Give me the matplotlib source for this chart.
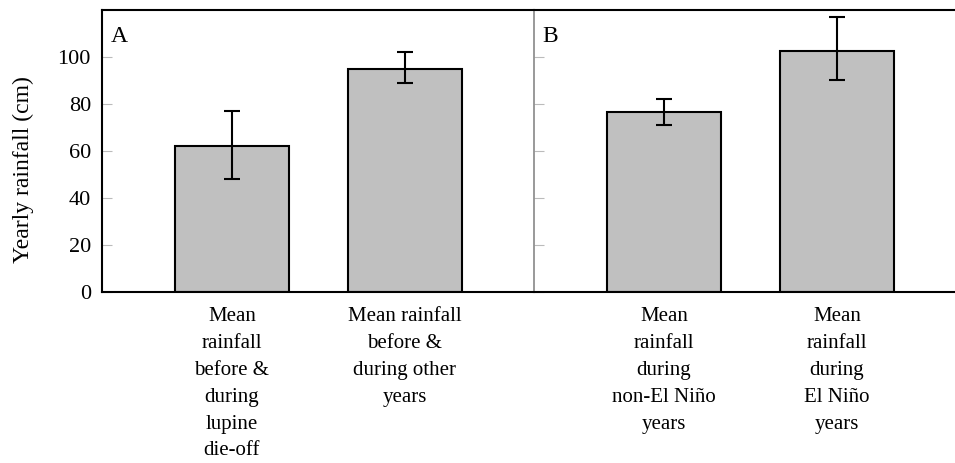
import numpy as np
import matplotlib
matplotlib.use("Agg")
import matplotlib.pyplot as plt

# data
labels_a = ["Mean\nrainfall\nbefore &\nduring\nlupine\ndie-off",
            "Mean rainfall\nbefore &\nduring other\nyears"]
means_a = [62, 95]
err_lo_a = [14, 6]
err_hi_a = [15, 7]

labels_b = ["Mean\nrainfall\nduring\nnon-El Niño\nyears",
            "Mean\nrainfall\nduring\nEl Niño\nyears"]
means_b = [76.5, 102.5]
err_lo_b = [5.5, 12.5]
err_hi_b = [5.5, 14.5]

yticks = [0, 20, 40, 60, 80, 100]

plt.rcParams['font.family'] = ['Liberation Serif', 'DejaVu Serif']

fig = plt.figure(figsize=(9.55, 4.63), dpi=100)
bot = 1 - 292/463
hgt = (292 - 9.5)/463
axA = fig.add_axes([102/955, bot, 432/955, hgt])
axB = fig.add_axes([534/955, bot, 432/955, hgt])

def panel(ax, labels, means, lo, hi, letter):
    x = np.arange(len(means))
    ax.bar(x, means, width=0.66, color='#c0c0c0', edgecolor='black', linewidth=1.5, zorder=2)
    ax.errorbar(x, means, yerr=[lo, hi], fmt='none', ecolor='black',
                elinewidth=1.5, capsize=6, capthick=1.5, zorder=3)
    ax.set_xlim(-0.751, 1.746)
    ax.set_ylim(0, 120.2)
    ax.set_yticks(yticks)
    ax.set_xticks(x)
    ax.set_xticklabels(labels, fontsize=15, linespacing=1.56, va='top')
    ax.tick_params(axis='x', length=0, pad=11)
    ax.tick_params(axis='y', direction='in', length=7, color='#bbbbbb', width=0.8)
    for s in ['top', 'bottom']:
        ax.spines[s].set_linewidth(1.5)
    ax.spines['right'].set_visible(False)
    ax.text(0.02, 0.94, letter, transform=ax.transAxes, fontsize=17, va='top', ha='left')

panel(axA, labels_a, means_a, err_lo_a, err_hi_a, 'A')
panel(axB, labels_b, means_b, err_lo_b, err_hi_b, 'B')

axA.spines['left'].set_linewidth(1.5)
axA.set_yticklabels([str(t) for t in yticks], fontsize=16)
axA.tick_params(axis='y', pad=8)
axA.set_ylabel("Yearly rainfall (cm)", fontsize=17)
axA.yaxis.set_label_coords(-0.157, 0.435)

axB.spines['left'].set_color('#888888')
axB.spines['left'].set_linewidth(1.2)
axB.set_yticklabels([])

fig.savefig("out.png", dpi=100)
